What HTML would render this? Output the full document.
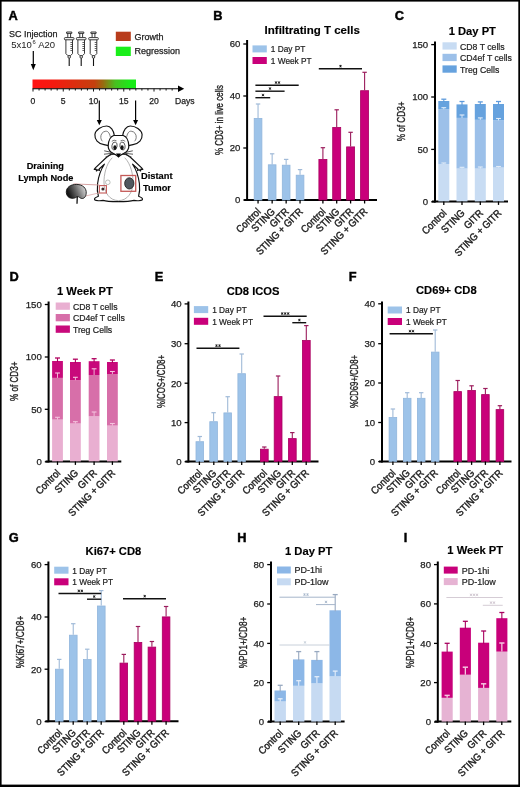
<!DOCTYPE html><html><head><meta charset="utf-8"><style>html,body{margin:0;padding:0;background:#fff;}svg{display:block;filter:blur(0.3px);}</style></head><body><svg width="520" height="787" viewBox="0 0 520 787" font-family='"Liberation Sans", sans-serif'>
<rect x="0" y="0" width="520" height="787" fill="#fff"/>
<text x="213.3" y="19.8" font-size="12.8" font-weight="bold" fill="#000" stroke="#000" stroke-width="0.45">B</text>
<text x="264.6" y="33.5" font-size="11.5" font-weight="bold" text-anchor="start" fill="#000" stroke="#000" stroke-width="0.15" >Infiltrating T cells</text>
<line x1="247.1" y1="40" x2="247.1" y2="201.0" stroke="#000" stroke-width="2" />
<line x1="243.29999999999998" y1="200" x2="247.1" y2="200" stroke="#000" stroke-width="1.3" />
<text x="240.29999999999998" y="203.4" font-size="9.6" font-weight="normal" text-anchor="end" fill="#222222" stroke="#222222" stroke-width="0.25" >0</text>
<line x1="243.29999999999998" y1="148" x2="247.1" y2="148" stroke="#000" stroke-width="1.3" />
<text x="240.29999999999998" y="151.4" font-size="9.6" font-weight="normal" text-anchor="end" fill="#222222" stroke="#222222" stroke-width="0.25" >20</text>
<line x1="243.29999999999998" y1="96" x2="247.1" y2="96" stroke="#000" stroke-width="1.3" />
<text x="240.29999999999998" y="99.4" font-size="9.6" font-weight="normal" text-anchor="end" fill="#222222" stroke="#222222" stroke-width="0.25" >40</text>
<line x1="243.29999999999998" y1="44" x2="247.1" y2="44" stroke="#000" stroke-width="1.3" />
<text x="240.29999999999998" y="47.4" font-size="9.6" font-weight="normal" text-anchor="end" fill="#222222" stroke="#222222" stroke-width="0.25" >60</text>
<line x1="244.1" y1="200.0" x2="377" y2="200.0" stroke="#000" stroke-width="2" />
<text x="0" y="0" font-size="10" text-anchor="middle" fill="#222222" stroke="#222222" stroke-width="0.35" textLength="70" lengthAdjust="spacingAndGlyphs" transform="translate(222.7,120) rotate(-90)">% CD3+ in live cells</text>
<rect x="252.50" y="45.40" width="14.30" height="7.00" fill="#9dc3e9" stroke="none" stroke-width="0" />
<text x="0" y="0" font-size="8.96" fill="#222222" stroke="#222222" stroke-width="0.22" transform="translate(270.80,52.30) scale(0.9259,1)">1 Day PT</text>
<rect x="252.50" y="57.00" width="14.30" height="7.00" fill="#c9007a" stroke="none" stroke-width="0" />
<text x="0" y="0" font-size="8.96" fill="#222222" stroke="#222222" stroke-width="0.22" transform="translate(270.80,63.90) scale(0.9259,1)">1 Week PT</text>
<line x1="258.05" y1="104" x2="258.05" y2="118" stroke="#a0bad8" stroke-width="1.1" />
<line x1="255.85000000000002" y1="104" x2="260.25" y2="104" stroke="#a0bad8" stroke-width="1.2" />
<rect x="254.20" y="118.40" width="7.70" height="81.60" fill="#9dc3e9" stroke="#92b6dc" stroke-width="0.8" />
<line x1="272.15" y1="153.8" x2="272.15" y2="164.4" stroke="#a0bad8" stroke-width="1.1" />
<line x1="269.95" y1="153.8" x2="274.34999999999997" y2="153.8" stroke="#a0bad8" stroke-width="1.2" />
<rect x="268.30" y="164.80" width="7.70" height="35.20" fill="#9dc3e9" stroke="#92b6dc" stroke-width="0.8" />
<line x1="286.15" y1="159.4" x2="286.15" y2="164.8" stroke="#a0bad8" stroke-width="1.1" />
<line x1="283.95" y1="159.4" x2="288.34999999999997" y2="159.4" stroke="#a0bad8" stroke-width="1.2" />
<rect x="282.30" y="165.20" width="7.70" height="34.80" fill="#9dc3e9" stroke="#92b6dc" stroke-width="0.8" />
<line x1="300.05" y1="169.6" x2="300.05" y2="174.8" stroke="#a0bad8" stroke-width="1.1" />
<line x1="297.85" y1="169.6" x2="302.25" y2="169.6" stroke="#a0bad8" stroke-width="1.2" />
<rect x="296.20" y="175.20" width="7.70" height="24.80" fill="#9dc3e9" stroke="#92b6dc" stroke-width="0.8" />
<line x1="322.9" y1="147.7" x2="322.9" y2="159" stroke="#9b1c5c" stroke-width="1.1" />
<line x1="320.7" y1="147.7" x2="325.09999999999997" y2="147.7" stroke="#9b1c5c" stroke-width="1.2" />
<rect x="318.90" y="159.40" width="8.00" height="40.60" fill="#c9007a" stroke="#a8005f" stroke-width="0.8" />
<line x1="336.7" y1="109.8" x2="336.7" y2="127" stroke="#9b1c5c" stroke-width="1.1" />
<line x1="334.5" y1="109.8" x2="338.9" y2="109.8" stroke="#9b1c5c" stroke-width="1.2" />
<rect x="332.70" y="127.40" width="8.00" height="72.60" fill="#c9007a" stroke="#a8005f" stroke-width="0.8" />
<line x1="350.59999999999997" y1="132.3" x2="350.59999999999997" y2="146.5" stroke="#9b1c5c" stroke-width="1.1" />
<line x1="348.4" y1="132.3" x2="352.79999999999995" y2="132.3" stroke="#9b1c5c" stroke-width="1.2" />
<rect x="346.60" y="146.90" width="8.00" height="53.10" fill="#c9007a" stroke="#a8005f" stroke-width="0.8" />
<line x1="364.59999999999997" y1="72.3" x2="364.59999999999997" y2="90.3" stroke="#9b1c5c" stroke-width="1.1" />
<line x1="362.4" y1="72.3" x2="366.79999999999995" y2="72.3" stroke="#9b1c5c" stroke-width="1.2" />
<rect x="360.60" y="90.70" width="8.00" height="109.30" fill="#c9007a" stroke="#a8005f" stroke-width="0.8" />
<line x1="258.05" y1="200.0" x2="258.05" y2="203.5" stroke="#000" stroke-width="1.3" />
<line x1="272.15" y1="200.0" x2="272.15" y2="203.5" stroke="#000" stroke-width="1.3" />
<line x1="286.15" y1="200.0" x2="286.15" y2="203.5" stroke="#000" stroke-width="1.3" />
<line x1="300.05" y1="200.0" x2="300.05" y2="203.5" stroke="#000" stroke-width="1.3" />
<line x1="322.9" y1="200.0" x2="322.9" y2="203.5" stroke="#000" stroke-width="1.3" />
<line x1="336.7" y1="200.0" x2="336.7" y2="203.5" stroke="#000" stroke-width="1.3" />
<line x1="350.59999999999997" y1="200.0" x2="350.59999999999997" y2="203.5" stroke="#000" stroke-width="1.3" />
<line x1="364.59999999999997" y1="200.0" x2="364.59999999999997" y2="203.5" stroke="#000" stroke-width="1.3" />
<text x="0" y="0" font-size="10.23" text-anchor="end" fill="#222222" stroke="#222222" stroke-width="0.4" transform="translate(261.45,212.30) rotate(-45) scale(0.9091,1)">Control</text>
<text x="0" y="0" font-size="10.23" text-anchor="end" fill="#222222" stroke="#222222" stroke-width="0.4" transform="translate(275.55,212.30) rotate(-45) scale(0.9091,1)">STING</text>
<text x="0" y="0" font-size="10.23" text-anchor="end" fill="#222222" stroke="#222222" stroke-width="0.4" transform="translate(289.55,212.30) rotate(-45) scale(0.9091,1)">GITR</text>
<text x="0" y="0" font-size="10.23" text-anchor="end" fill="#222222" stroke="#222222" stroke-width="0.4" transform="translate(303.45,212.30) rotate(-45) scale(0.9091,1)">STING + GITR</text>
<text x="0" y="0" font-size="10.23" text-anchor="end" fill="#222222" stroke="#222222" stroke-width="0.4" transform="translate(326.30,212.30) rotate(-45) scale(0.9091,1)">Control</text>
<text x="0" y="0" font-size="10.23" text-anchor="end" fill="#222222" stroke="#222222" stroke-width="0.4" transform="translate(340.10,212.30) rotate(-45) scale(0.9091,1)">STING</text>
<text x="0" y="0" font-size="10.23" text-anchor="end" fill="#222222" stroke="#222222" stroke-width="0.4" transform="translate(354.00,212.30) rotate(-45) scale(0.9091,1)">GITR</text>
<text x="0" y="0" font-size="10.23" text-anchor="end" fill="#222222" stroke="#222222" stroke-width="0.4" transform="translate(368.00,212.30) rotate(-45) scale(0.9091,1)">STING + GITR</text>
<line x1="255.4" y1="85.2" x2="298.7" y2="85.2" stroke="#111" stroke-width="1.4" />
<path d="M274.80,81.70 L277.20,83.50 M277.20,81.70 L274.80,83.50 M276.00,81.30 L276.00,83.70" stroke="#111" stroke-width="0.8"/>
<path d="M277.80,81.70 L280.20,83.50 M280.20,81.70 L277.80,83.50 M279.00,81.30 L279.00,83.70" stroke="#111" stroke-width="0.8"/>
<line x1="255.4" y1="91.2" x2="284.6" y2="91.2" stroke="#111" stroke-width="1.4" />
<path d="M268.80,87.70 L271.20,89.50 M271.20,87.70 L268.80,89.50 M270.00,87.30 L270.00,89.70" stroke="#111" stroke-width="0.8"/>
<line x1="255.4" y1="97.7" x2="270.2" y2="97.7" stroke="#111" stroke-width="1.4" />
<path d="M261.80,94.20 L264.20,96.00 M264.20,94.20 L261.80,96.00 M263.00,93.80 L263.00,96.20" stroke="#111" stroke-width="0.8"/>
<line x1="318.8" y1="68.8" x2="362" y2="68.8" stroke="#111" stroke-width="1.4" />
<path d="M339.30,65.30 L341.70,67.10 M341.70,65.30 L339.30,67.10 M340.50,64.90 L340.50,67.30" stroke="#111" stroke-width="0.8"/>
<text x="394.8" y="20.2" font-size="12.8" font-weight="bold" fill="#000" stroke="#000" stroke-width="0.45">C</text>
<text x="448.7" y="34.5" font-size="11.2" font-weight="bold" text-anchor="start" fill="#000" stroke="#000" stroke-width="0.15" >1 Day PT</text>
<line x1="435.0" y1="41.5" x2="435.0" y2="202.4" stroke="#000" stroke-width="2" />
<line x1="431.2" y1="201.8" x2="435.0" y2="201.8" stroke="#000" stroke-width="1.3" />
<text x="428.2" y="205.20000000000002" font-size="9.6" font-weight="normal" text-anchor="end" fill="#222222" stroke="#222222" stroke-width="0.25" >0</text>
<line x1="431.2" y1="149.4" x2="435.0" y2="149.4" stroke="#000" stroke-width="1.3" />
<text x="428.2" y="152.8" font-size="9.6" font-weight="normal" text-anchor="end" fill="#222222" stroke="#222222" stroke-width="0.25" >50</text>
<line x1="431.2" y1="97.0" x2="435.0" y2="97.0" stroke="#000" stroke-width="1.3" />
<text x="428.2" y="100.4" font-size="9.6" font-weight="normal" text-anchor="end" fill="#222222" stroke="#222222" stroke-width="0.25" >100</text>
<line x1="431.2" y1="44.6" x2="435.0" y2="44.6" stroke="#000" stroke-width="1.3" />
<text x="428.2" y="48.0" font-size="9.6" font-weight="normal" text-anchor="end" fill="#222222" stroke="#222222" stroke-width="0.25" >150</text>
<line x1="432.0" y1="201.4" x2="508" y2="201.4" stroke="#000" stroke-width="2" />
<text x="0" y="0" font-size="10" text-anchor="middle" fill="#222222" stroke="#222222" stroke-width="0.35" textLength="39.7" lengthAdjust="spacingAndGlyphs" transform="translate(404.9,121.4) rotate(-90)">% of CD3+</text>
<rect x="442.50" y="42.30" width="14.20" height="7.30" fill="#c8dcf3" stroke="none" stroke-width="0" />
<text x="0" y="0" font-size="9.40" fill="#222222" stroke="#222222" stroke-width="0.22" transform="translate(460.00,49.50) scale(0.9259,1)">CD8 T cells</text>
<rect x="442.50" y="53.80" width="14.20" height="7.30" fill="#9cc0e9" stroke="none" stroke-width="0" />
<text x="0" y="0" font-size="9.40" fill="#222222" stroke="#222222" stroke-width="0.22" transform="translate(460.00,61.00) scale(0.9259,1)">CD4ef T cells</text>
<rect x="442.50" y="65.40" width="14.20" height="7.30" fill="#66a2de" stroke="none" stroke-width="0" />
<text x="0" y="0" font-size="9.40" fill="#222222" stroke="#222222" stroke-width="0.22" transform="translate(460.00,72.60) scale(0.9259,1)">Treg Cells</text>
<rect x="438.30" y="164.00" width="11.00" height="37.40" fill="#c8dcf3" stroke="none" stroke-width="0" />
<rect x="438.30" y="109.20" width="11.00" height="54.80" fill="#9cc0e9" stroke="none" stroke-width="0" />
<rect x="438.30" y="101.00" width="11.00" height="8.20" fill="#66a2de" stroke="none" stroke-width="0" />
<line x1="443.8" y1="99.2" x2="443.8" y2="102" stroke="#5d9adb" stroke-width="1.1" />
<line x1="441.3" y1="99.2" x2="446.3" y2="99.2" stroke="#5d9adb" stroke-width="1.3" />
<line x1="443.8" y1="163" x2="443.8" y2="164" stroke="#e2ecf8" stroke-width="0.9" />
<line x1="441.40000000000003" y1="163" x2="446.2" y2="163" stroke="#e2ecf8" stroke-width="1.1" />
<line x1="443.8" y1="107.7" x2="443.8" y2="109.2" stroke="#e2ecf8" stroke-width="0.9" />
<line x1="441.40000000000003" y1="107.7" x2="446.2" y2="107.7" stroke="#e2ecf8" stroke-width="1.1" />
<rect x="456.50" y="168.50" width="11.00" height="32.90" fill="#c8dcf3" stroke="none" stroke-width="0" />
<rect x="456.50" y="117.90" width="11.00" height="50.60" fill="#9cc0e9" stroke="none" stroke-width="0" />
<rect x="456.50" y="104.40" width="11.00" height="13.50" fill="#66a2de" stroke="none" stroke-width="0" />
<line x1="462.0" y1="101.5" x2="462.0" y2="105.4" stroke="#5d9adb" stroke-width="1.1" />
<line x1="459.5" y1="101.5" x2="464.5" y2="101.5" stroke="#5d9adb" stroke-width="1.3" />
<line x1="462.0" y1="167.3" x2="462.0" y2="168.5" stroke="#e2ecf8" stroke-width="0.9" />
<line x1="459.6" y1="167.3" x2="464.4" y2="167.3" stroke="#e2ecf8" stroke-width="1.1" />
<line x1="462.0" y1="115" x2="462.0" y2="117.9" stroke="#e2ecf8" stroke-width="0.9" />
<line x1="459.6" y1="115" x2="464.4" y2="115" stroke="#e2ecf8" stroke-width="1.1" />
<rect x="474.80" y="168.50" width="11.00" height="32.90" fill="#c8dcf3" stroke="none" stroke-width="0" />
<rect x="474.80" y="119.80" width="11.00" height="48.70" fill="#9cc0e9" stroke="none" stroke-width="0" />
<rect x="474.80" y="104.00" width="11.00" height="15.80" fill="#66a2de" stroke="none" stroke-width="0" />
<line x1="480.3" y1="101.9" x2="480.3" y2="105" stroke="#5d9adb" stroke-width="1.1" />
<line x1="477.8" y1="101.9" x2="482.8" y2="101.9" stroke="#5d9adb" stroke-width="1.3" />
<line x1="480.3" y1="167" x2="480.3" y2="168.5" stroke="#e2ecf8" stroke-width="0.9" />
<line x1="477.90000000000003" y1="167" x2="482.7" y2="167" stroke="#e2ecf8" stroke-width="1.1" />
<line x1="480.3" y1="117.9" x2="480.3" y2="119.8" stroke="#e2ecf8" stroke-width="0.9" />
<line x1="477.90000000000003" y1="117.9" x2="482.7" y2="117.9" stroke="#e2ecf8" stroke-width="1.1" />
<rect x="493.00" y="167.50" width="11.00" height="33.90" fill="#c8dcf3" stroke="none" stroke-width="0" />
<rect x="493.00" y="120.40" width="11.00" height="47.10" fill="#9cc0e9" stroke="none" stroke-width="0" />
<rect x="493.00" y="104.00" width="11.00" height="16.40" fill="#66a2de" stroke="none" stroke-width="0" />
<line x1="498.5" y1="101.5" x2="498.5" y2="105" stroke="#5d9adb" stroke-width="1.1" />
<line x1="496.0" y1="101.5" x2="501.0" y2="101.5" stroke="#5d9adb" stroke-width="1.3" />
<line x1="498.5" y1="166.5" x2="498.5" y2="167.5" stroke="#e2ecf8" stroke-width="0.9" />
<line x1="496.1" y1="166.5" x2="500.9" y2="166.5" stroke="#e2ecf8" stroke-width="1.1" />
<line x1="498.5" y1="118.5" x2="498.5" y2="120.4" stroke="#e2ecf8" stroke-width="0.9" />
<line x1="496.1" y1="118.5" x2="500.9" y2="118.5" stroke="#e2ecf8" stroke-width="1.1" />
<line x1="443.8" y1="201.4" x2="443.8" y2="204.9" stroke="#000" stroke-width="1.3" />
<line x1="462.0" y1="201.4" x2="462.0" y2="204.9" stroke="#000" stroke-width="1.3" />
<line x1="480.3" y1="201.4" x2="480.3" y2="204.9" stroke="#000" stroke-width="1.3" />
<line x1="498.5" y1="201.4" x2="498.5" y2="204.9" stroke="#000" stroke-width="1.3" />
<text x="0" y="0" font-size="10.23" text-anchor="end" fill="#222222" stroke="#222222" stroke-width="0.4" transform="translate(447.20,213.70) rotate(-45) scale(0.9091,1)">Control</text>
<text x="0" y="0" font-size="10.23" text-anchor="end" fill="#222222" stroke="#222222" stroke-width="0.4" transform="translate(465.40,213.70) rotate(-45) scale(0.9091,1)">STING</text>
<text x="0" y="0" font-size="10.23" text-anchor="end" fill="#222222" stroke="#222222" stroke-width="0.4" transform="translate(483.70,213.70) rotate(-45) scale(0.9091,1)">GITR</text>
<text x="0" y="0" font-size="10.23" text-anchor="end" fill="#222222" stroke="#222222" stroke-width="0.4" transform="translate(501.90,213.70) rotate(-45) scale(0.9091,1)">STING + GITR</text>
<text x="9.4" y="281.0" font-size="12.8" font-weight="bold" fill="#000" stroke="#000" stroke-width="0.45">D</text>
<text x="57.0" y="294.5" font-size="11.2" font-weight="bold" text-anchor="start" fill="#000" stroke="#000" stroke-width="0.15" >1 Week PT</text>
<line x1="48.6" y1="301.5" x2="48.6" y2="462.4" stroke="#000" stroke-width="2" />
<line x1="44.800000000000004" y1="461.8" x2="48.6" y2="461.8" stroke="#000" stroke-width="1.3" />
<text x="41.800000000000004" y="465.2" font-size="9.6" font-weight="normal" text-anchor="end" fill="#222222" stroke="#222222" stroke-width="0.25" >0</text>
<line x1="44.800000000000004" y1="409.3" x2="48.6" y2="409.3" stroke="#000" stroke-width="1.3" />
<text x="41.800000000000004" y="412.7" font-size="9.6" font-weight="normal" text-anchor="end" fill="#222222" stroke="#222222" stroke-width="0.25" >50</text>
<line x1="44.800000000000004" y1="357.0" x2="48.6" y2="357.0" stroke="#000" stroke-width="1.3" />
<text x="41.800000000000004" y="360.4" font-size="9.6" font-weight="normal" text-anchor="end" fill="#222222" stroke="#222222" stroke-width="0.25" >100</text>
<line x1="44.800000000000004" y1="304.5" x2="48.6" y2="304.5" stroke="#000" stroke-width="1.3" />
<text x="41.800000000000004" y="307.9" font-size="9.6" font-weight="normal" text-anchor="end" fill="#222222" stroke="#222222" stroke-width="0.25" >150</text>
<line x1="45.6" y1="461.4" x2="121.3" y2="461.4" stroke="#000" stroke-width="2" />
<text x="0" y="0" font-size="10" text-anchor="middle" fill="#222222" stroke="#222222" stroke-width="0.35" textLength="39.4" lengthAdjust="spacingAndGlyphs" transform="translate(18.4,381.3) rotate(-90)">% of CD3+</text>
<rect x="55.70" y="302.50" width="14.20" height="7.30" fill="#e9afd1" stroke="none" stroke-width="0" />
<text x="0" y="0" font-size="9.40" fill="#222222" stroke="#222222" stroke-width="0.22" transform="translate(72.90,309.70) scale(0.9259,1)">CD8 T cells</text>
<rect x="55.70" y="314.00" width="14.20" height="7.30" fill="#d76fa9" stroke="none" stroke-width="0" />
<text x="0" y="0" font-size="9.40" fill="#222222" stroke="#222222" stroke-width="0.22" transform="translate(72.90,321.20) scale(0.9259,1)">CD4ef T cells</text>
<rect x="55.70" y="325.50" width="14.20" height="7.30" fill="#c8097b" stroke="none" stroke-width="0" />
<text x="0" y="0" font-size="9.40" fill="#222222" stroke="#222222" stroke-width="0.22" transform="translate(72.90,332.70) scale(0.9259,1)">Treg Cells</text>
<rect x="52.10" y="419.60" width="10.80" height="41.80" fill="#e9afd1" stroke="none" stroke-width="0" />
<rect x="52.10" y="377.90" width="10.80" height="41.70" fill="#d76fa9" stroke="none" stroke-width="0" />
<rect x="52.10" y="361.00" width="10.80" height="16.90" fill="#c8097b" stroke="none" stroke-width="0" />
<line x1="57.5" y1="358" x2="57.5" y2="362" stroke="#b0005f" stroke-width="1.1" />
<line x1="55.0" y1="358" x2="60.0" y2="358" stroke="#b0005f" stroke-width="1.3" />
<line x1="57.5" y1="417.3" x2="57.5" y2="419.6" stroke="#f4c4de" stroke-width="0.9" />
<line x1="55.1" y1="417.3" x2="59.9" y2="417.3" stroke="#f4c4de" stroke-width="1.1" />
<line x1="57.5" y1="373" x2="57.5" y2="377.9" stroke="#f4c4de" stroke-width="0.9" />
<line x1="55.1" y1="373" x2="59.9" y2="373" stroke="#f4c4de" stroke-width="1.1" />
<rect x="70.00" y="423.50" width="10.80" height="37.90" fill="#e9afd1" stroke="none" stroke-width="0" />
<rect x="70.00" y="380.20" width="10.80" height="43.30" fill="#d76fa9" stroke="none" stroke-width="0" />
<rect x="70.00" y="362.00" width="10.80" height="18.20" fill="#c8097b" stroke="none" stroke-width="0" />
<line x1="75.4" y1="359.2" x2="75.4" y2="363" stroke="#b0005f" stroke-width="1.1" />
<line x1="72.9" y1="359.2" x2="77.9" y2="359.2" stroke="#b0005f" stroke-width="1.3" />
<line x1="75.4" y1="421.7" x2="75.4" y2="423.5" stroke="#f4c4de" stroke-width="0.9" />
<line x1="73.0" y1="421.7" x2="77.80000000000001" y2="421.7" stroke="#f4c4de" stroke-width="1.1" />
<line x1="75.4" y1="377.3" x2="75.4" y2="380.2" stroke="#f4c4de" stroke-width="0.9" />
<line x1="73.0" y1="377.3" x2="77.80000000000001" y2="377.3" stroke="#f4c4de" stroke-width="1.1" />
<rect x="88.70" y="416.30" width="10.80" height="45.10" fill="#e9afd1" stroke="none" stroke-width="0" />
<rect x="88.70" y="375.00" width="10.80" height="41.30" fill="#d76fa9" stroke="none" stroke-width="0" />
<rect x="88.70" y="361.20" width="10.80" height="13.80" fill="#c8097b" stroke="none" stroke-width="0" />
<line x1="94.10000000000001" y1="358.7" x2="94.10000000000001" y2="362.2" stroke="#b0005f" stroke-width="1.1" />
<line x1="91.60000000000001" y1="358.7" x2="96.60000000000001" y2="358.7" stroke="#b0005f" stroke-width="1.3" />
<line x1="94.10000000000001" y1="412" x2="94.10000000000001" y2="416.3" stroke="#f4c4de" stroke-width="0.9" />
<line x1="91.7" y1="412" x2="96.50000000000001" y2="412" stroke="#f4c4de" stroke-width="1.1" />
<line x1="94.10000000000001" y1="368.8" x2="94.10000000000001" y2="375" stroke="#f4c4de" stroke-width="0.9" />
<line x1="91.7" y1="368.8" x2="96.50000000000001" y2="368.8" stroke="#f4c4de" stroke-width="1.1" />
<rect x="107.00" y="425.60" width="10.80" height="35.80" fill="#e9afd1" stroke="none" stroke-width="0" />
<rect x="107.00" y="374.00" width="10.80" height="51.60" fill="#d76fa9" stroke="none" stroke-width="0" />
<rect x="107.00" y="362.00" width="10.80" height="12.00" fill="#c8097b" stroke="none" stroke-width="0" />
<line x1="112.4" y1="360" x2="112.4" y2="363" stroke="#b0005f" stroke-width="1.1" />
<line x1="109.9" y1="360" x2="114.9" y2="360" stroke="#b0005f" stroke-width="1.3" />
<line x1="112.4" y1="423.5" x2="112.4" y2="425.6" stroke="#f4c4de" stroke-width="0.9" />
<line x1="110.0" y1="423.5" x2="114.80000000000001" y2="423.5" stroke="#f4c4de" stroke-width="1.1" />
<line x1="112.4" y1="371.5" x2="112.4" y2="374" stroke="#f4c4de" stroke-width="0.9" />
<line x1="110.0" y1="371.5" x2="114.80000000000001" y2="371.5" stroke="#f4c4de" stroke-width="1.1" />
<line x1="57.5" y1="461.4" x2="57.5" y2="464.9" stroke="#000" stroke-width="1.3" />
<line x1="75.4" y1="461.4" x2="75.4" y2="464.9" stroke="#000" stroke-width="1.3" />
<line x1="94.1" y1="461.4" x2="94.1" y2="464.9" stroke="#000" stroke-width="1.3" />
<line x1="112.4" y1="461.4" x2="112.4" y2="464.9" stroke="#000" stroke-width="1.3" />
<text x="0" y="0" font-size="10.23" text-anchor="end" fill="#222222" stroke="#222222" stroke-width="0.4" transform="translate(60.90,473.70) rotate(-45) scale(0.9091,1)">Control</text>
<text x="0" y="0" font-size="10.23" text-anchor="end" fill="#222222" stroke="#222222" stroke-width="0.4" transform="translate(78.80,473.70) rotate(-45) scale(0.9091,1)">STING</text>
<text x="0" y="0" font-size="10.23" text-anchor="end" fill="#222222" stroke="#222222" stroke-width="0.4" transform="translate(97.50,473.70) rotate(-45) scale(0.9091,1)">GITR</text>
<text x="0" y="0" font-size="10.23" text-anchor="end" fill="#222222" stroke="#222222" stroke-width="0.4" transform="translate(115.80,473.70) rotate(-45) scale(0.9091,1)">STING + GITR</text>
<text x="154.8" y="281.0" font-size="12.8" font-weight="bold" fill="#000" stroke="#000" stroke-width="0.45">E</text>
<text x="226.7" y="294.5" font-size="11.2" font-weight="bold" text-anchor="start" fill="#000" stroke="#000" stroke-width="0.15" >CD8 ICOS</text>
<line x1="188.4" y1="301.5" x2="188.4" y2="462.5" stroke="#000" stroke-width="2" />
<line x1="184.6" y1="461.7" x2="188.4" y2="461.7" stroke="#000" stroke-width="1.3" />
<text x="181.6" y="465.09999999999997" font-size="9.6" font-weight="normal" text-anchor="end" fill="#222222" stroke="#222222" stroke-width="0.25" >0</text>
<line x1="184.6" y1="422.6" x2="188.4" y2="422.6" stroke="#000" stroke-width="1.3" />
<text x="181.6" y="426.0" font-size="9.6" font-weight="normal" text-anchor="end" fill="#222222" stroke="#222222" stroke-width="0.25" >10</text>
<line x1="184.6" y1="383.2" x2="188.4" y2="383.2" stroke="#000" stroke-width="1.3" />
<text x="181.6" y="386.59999999999997" font-size="9.6" font-weight="normal" text-anchor="end" fill="#222222" stroke="#222222" stroke-width="0.25" >20</text>
<line x1="184.6" y1="343.7" x2="188.4" y2="343.7" stroke="#000" stroke-width="1.3" />
<text x="181.6" y="347.09999999999997" font-size="9.6" font-weight="normal" text-anchor="end" fill="#222222" stroke="#222222" stroke-width="0.25" >30</text>
<line x1="184.6" y1="303.9" x2="188.4" y2="303.9" stroke="#000" stroke-width="1.3" />
<text x="181.6" y="307.29999999999995" font-size="9.6" font-weight="normal" text-anchor="end" fill="#222222" stroke="#222222" stroke-width="0.25" >40</text>
<line x1="185.4" y1="461.5" x2="318.5" y2="461.5" stroke="#000" stroke-width="2" />
<text x="0" y="0" font-size="10" text-anchor="middle" fill="#222222" stroke="#222222" stroke-width="0.35" textLength="53" lengthAdjust="spacingAndGlyphs" transform="translate(164.89999999999998,381.5) rotate(-90)">%ICOS+/CD8+</text>
<rect x="193.90" y="306.10" width="14.30" height="7.00" fill="#9dc3e9" stroke="none" stroke-width="0" />
<text x="0" y="0" font-size="8.96" fill="#222222" stroke="#222222" stroke-width="0.22" transform="translate(212.20,313.00) scale(0.9259,1)">1 Day PT</text>
<rect x="193.90" y="317.80" width="14.30" height="7.00" fill="#c9007a" stroke="none" stroke-width="0" />
<text x="0" y="0" font-size="8.96" fill="#222222" stroke="#222222" stroke-width="0.22" transform="translate(212.20,324.70) scale(0.9259,1)">1 Week PT</text>
<line x1="199.79999999999998" y1="436.5" x2="199.79999999999998" y2="441.3" stroke="#a0bad8" stroke-width="1.1" />
<line x1="197.6" y1="436.5" x2="201.99999999999997" y2="436.5" stroke="#a0bad8" stroke-width="1.2" />
<rect x="196.00" y="441.70" width="7.60" height="19.80" fill="#9dc3e9" stroke="#92b6dc" stroke-width="0.8" />
<line x1="213.6" y1="412.7" x2="213.6" y2="421.3" stroke="#a0bad8" stroke-width="1.1" />
<line x1="211.4" y1="412.7" x2="215.79999999999998" y2="412.7" stroke="#a0bad8" stroke-width="1.2" />
<rect x="209.80" y="421.70" width="7.60" height="39.80" fill="#9dc3e9" stroke="#92b6dc" stroke-width="0.8" />
<line x1="227.7" y1="396.7" x2="227.7" y2="412.5" stroke="#a0bad8" stroke-width="1.1" />
<line x1="225.5" y1="396.7" x2="229.89999999999998" y2="396.7" stroke="#a0bad8" stroke-width="1.2" />
<rect x="223.90" y="412.90" width="7.60" height="48.60" fill="#9dc3e9" stroke="#92b6dc" stroke-width="0.8" />
<line x1="241.7" y1="354" x2="241.7" y2="373.3" stroke="#a0bad8" stroke-width="1.1" />
<line x1="239.5" y1="354" x2="243.89999999999998" y2="354" stroke="#a0bad8" stroke-width="1.2" />
<rect x="237.90" y="373.70" width="7.60" height="87.80" fill="#9dc3e9" stroke="#92b6dc" stroke-width="0.8" />
<line x1="264.3" y1="447" x2="264.3" y2="448.8" stroke="#9b1c5c" stroke-width="1.1" />
<line x1="262.1" y1="447" x2="266.5" y2="447" stroke="#9b1c5c" stroke-width="1.2" />
<rect x="260.40" y="449.20" width="7.80" height="12.30" fill="#c9007a" stroke="#a8005f" stroke-width="0.8" />
<line x1="278.1" y1="376" x2="278.1" y2="396.2" stroke="#9b1c5c" stroke-width="1.1" />
<line x1="275.90000000000003" y1="376" x2="280.3" y2="376" stroke="#9b1c5c" stroke-width="1.2" />
<rect x="274.20" y="396.60" width="7.80" height="64.90" fill="#c9007a" stroke="#a8005f" stroke-width="0.8" />
<line x1="292.3" y1="432.6" x2="292.3" y2="438.2" stroke="#9b1c5c" stroke-width="1.1" />
<line x1="290.1" y1="432.6" x2="294.5" y2="432.6" stroke="#9b1c5c" stroke-width="1.2" />
<rect x="288.40" y="438.60" width="7.80" height="22.90" fill="#c9007a" stroke="#a8005f" stroke-width="0.8" />
<line x1="306.3" y1="325.6" x2="306.3" y2="340" stroke="#9b1c5c" stroke-width="1.1" />
<line x1="304.1" y1="325.6" x2="308.5" y2="325.6" stroke="#9b1c5c" stroke-width="1.2" />
<rect x="302.40" y="340.40" width="7.80" height="121.10" fill="#c9007a" stroke="#a8005f" stroke-width="0.8" />
<line x1="199.4" y1="461.5" x2="199.4" y2="465.0" stroke="#000" stroke-width="1.3" />
<line x1="213.8" y1="461.5" x2="213.8" y2="465.0" stroke="#000" stroke-width="1.3" />
<line x1="227.7" y1="461.5" x2="227.7" y2="465.0" stroke="#000" stroke-width="1.3" />
<line x1="241.7" y1="461.5" x2="241.7" y2="465.0" stroke="#000" stroke-width="1.3" />
<line x1="264.2" y1="461.5" x2="264.2" y2="465.0" stroke="#000" stroke-width="1.3" />
<line x1="278.5" y1="461.5" x2="278.5" y2="465.0" stroke="#000" stroke-width="1.3" />
<line x1="292.3" y1="461.5" x2="292.3" y2="465.0" stroke="#000" stroke-width="1.3" />
<line x1="306.2" y1="461.5" x2="306.2" y2="465.0" stroke="#000" stroke-width="1.3" />
<text x="0" y="0" font-size="10.23" text-anchor="end" fill="#222222" stroke="#222222" stroke-width="0.4" transform="translate(202.80,473.80) rotate(-45) scale(0.9091,1)">Control</text>
<text x="0" y="0" font-size="10.23" text-anchor="end" fill="#222222" stroke="#222222" stroke-width="0.4" transform="translate(217.20,473.80) rotate(-45) scale(0.9091,1)">STING</text>
<text x="0" y="0" font-size="10.23" text-anchor="end" fill="#222222" stroke="#222222" stroke-width="0.4" transform="translate(231.10,473.80) rotate(-45) scale(0.9091,1)">GITR</text>
<text x="0" y="0" font-size="10.23" text-anchor="end" fill="#222222" stroke="#222222" stroke-width="0.4" transform="translate(245.10,473.80) rotate(-45) scale(0.9091,1)">STING + GITR</text>
<text x="0" y="0" font-size="10.23" text-anchor="end" fill="#222222" stroke="#222222" stroke-width="0.4" transform="translate(267.60,473.80) rotate(-45) scale(0.9091,1)">Control</text>
<text x="0" y="0" font-size="10.23" text-anchor="end" fill="#222222" stroke="#222222" stroke-width="0.4" transform="translate(281.90,473.80) rotate(-45) scale(0.9091,1)">STING</text>
<text x="0" y="0" font-size="10.23" text-anchor="end" fill="#222222" stroke="#222222" stroke-width="0.4" transform="translate(295.70,473.80) rotate(-45) scale(0.9091,1)">GITR</text>
<text x="0" y="0" font-size="10.23" text-anchor="end" fill="#222222" stroke="#222222" stroke-width="0.4" transform="translate(309.60,473.80) rotate(-45) scale(0.9091,1)">STING + GITR</text>
<line x1="196.5" y1="348.3" x2="239.4" y2="348.3" stroke="#111" stroke-width="1.4" />
<path d="M215.30,344.80 L217.70,346.60 M217.70,344.80 L215.30,346.60 M216.50,344.40 L216.50,346.80" stroke="#111" stroke-width="0.8"/>
<path d="M218.30,344.80 L220.70,346.60 M220.70,344.80 L218.30,346.60 M219.50,344.40 L219.50,346.80" stroke="#111" stroke-width="0.8"/>
<line x1="263.5" y1="316.2" x2="306.7" y2="316.2" stroke="#111" stroke-width="1.4" />
<path d="M281.00,312.70 L283.40,314.50 M283.40,312.70 L281.00,314.50 M282.20,312.30 L282.20,314.70" stroke="#111" stroke-width="0.8"/>
<path d="M284.00,312.70 L286.40,314.50 M286.40,312.70 L284.00,314.50 M285.20,312.30 L285.20,314.70" stroke="#111" stroke-width="0.8"/>
<path d="M287.00,312.70 L289.40,314.50 M289.40,312.70 L287.00,314.50 M288.20,312.30 L288.20,314.70" stroke="#111" stroke-width="0.8"/>
<line x1="292.3" y1="322.7" x2="306.2" y2="322.7" stroke="#111" stroke-width="1.4" />
<path d="M298.20,319.20 L300.60,321.00 M300.60,319.20 L298.20,321.00 M299.40,318.80 L299.40,321.20" stroke="#111" stroke-width="0.8"/>
<text x="348.7" y="281.2" font-size="12.8" font-weight="bold" fill="#000" stroke="#000" stroke-width="0.45">F</text>
<text x="416.0" y="293.8" font-size="11.2" font-weight="bold" text-anchor="start" fill="#000" stroke="#000" stroke-width="0.15" >CD69+ CD8</text>
<line x1="382.0" y1="301.5" x2="382.0" y2="462.4" stroke="#000" stroke-width="2" />
<line x1="378.2" y1="461.6" x2="382.0" y2="461.6" stroke="#000" stroke-width="1.3" />
<text x="375.2" y="465.0" font-size="9.6" font-weight="normal" text-anchor="end" fill="#222222" stroke="#222222" stroke-width="0.25" >0</text>
<line x1="378.2" y1="422.5" x2="382.0" y2="422.5" stroke="#000" stroke-width="1.3" />
<text x="375.2" y="425.9" font-size="9.6" font-weight="normal" text-anchor="end" fill="#222222" stroke="#222222" stroke-width="0.25" >10</text>
<line x1="378.2" y1="383.0" x2="382.0" y2="383.0" stroke="#000" stroke-width="1.3" />
<text x="375.2" y="386.4" font-size="9.6" font-weight="normal" text-anchor="end" fill="#222222" stroke="#222222" stroke-width="0.25" >20</text>
<line x1="378.2" y1="343.7" x2="382.0" y2="343.7" stroke="#000" stroke-width="1.3" />
<text x="375.2" y="347.09999999999997" font-size="9.6" font-weight="normal" text-anchor="end" fill="#222222" stroke="#222222" stroke-width="0.25" >30</text>
<line x1="378.2" y1="303.8" x2="382.0" y2="303.8" stroke="#000" stroke-width="1.3" />
<text x="375.2" y="307.2" font-size="9.6" font-weight="normal" text-anchor="end" fill="#222222" stroke="#222222" stroke-width="0.25" >40</text>
<line x1="379.0" y1="461.4" x2="511.5" y2="461.4" stroke="#000" stroke-width="2" />
<text x="0" y="0" font-size="10" text-anchor="middle" fill="#222222" stroke="#222222" stroke-width="0.35" textLength="53" lengthAdjust="spacingAndGlyphs" transform="translate(357.5,381.6) rotate(-90)">%CD69+/CD8+</text>
<rect x="387.70" y="306.50" width="14.30" height="7.00" fill="#9dc3e9" stroke="none" stroke-width="0" />
<text x="0" y="0" font-size="8.96" fill="#222222" stroke="#222222" stroke-width="0.22" transform="translate(406.00,313.40) scale(0.9259,1)">1 Day PT</text>
<rect x="387.70" y="318.00" width="14.30" height="7.00" fill="#c9007a" stroke="none" stroke-width="0" />
<text x="0" y="0" font-size="8.96" fill="#222222" stroke="#222222" stroke-width="0.22" transform="translate(406.00,324.90) scale(0.9259,1)">1 Week PT</text>
<line x1="392.9" y1="409" x2="392.9" y2="417.1" stroke="#a0bad8" stroke-width="1.1" />
<line x1="390.7" y1="409" x2="395.09999999999997" y2="409" stroke="#a0bad8" stroke-width="1.2" />
<rect x="389.10" y="417.50" width="7.60" height="43.90" fill="#9dc3e9" stroke="#92b6dc" stroke-width="0.8" />
<line x1="407.2" y1="392.7" x2="407.2" y2="397.9" stroke="#a0bad8" stroke-width="1.1" />
<line x1="405.0" y1="392.7" x2="409.4" y2="392.7" stroke="#a0bad8" stroke-width="1.2" />
<rect x="403.40" y="398.30" width="7.60" height="63.10" fill="#9dc3e9" stroke="#92b6dc" stroke-width="0.8" />
<line x1="421.2" y1="392.7" x2="421.2" y2="397.9" stroke="#a0bad8" stroke-width="1.1" />
<line x1="419.0" y1="392.7" x2="423.4" y2="392.7" stroke="#a0bad8" stroke-width="1.2" />
<rect x="417.40" y="398.30" width="7.60" height="63.10" fill="#9dc3e9" stroke="#92b6dc" stroke-width="0.8" />
<line x1="435.2" y1="330" x2="435.2" y2="351.7" stroke="#a0bad8" stroke-width="1.1" />
<line x1="433.0" y1="330" x2="437.4" y2="330" stroke="#a0bad8" stroke-width="1.2" />
<rect x="431.40" y="352.10" width="7.60" height="109.30" fill="#9dc3e9" stroke="#92b6dc" stroke-width="0.8" />
<line x1="457.7" y1="380.5" x2="457.7" y2="391.2" stroke="#9b1c5c" stroke-width="1.1" />
<line x1="455.5" y1="380.5" x2="459.9" y2="380.5" stroke="#9b1c5c" stroke-width="1.2" />
<rect x="453.90" y="391.60" width="7.60" height="69.80" fill="#c9007a" stroke="#a8005f" stroke-width="0.8" />
<line x1="471.59999999999997" y1="385.8" x2="471.59999999999997" y2="390" stroke="#9b1c5c" stroke-width="1.1" />
<line x1="469.4" y1="385.8" x2="473.79999999999995" y2="385.8" stroke="#9b1c5c" stroke-width="1.2" />
<rect x="467.80" y="390.40" width="7.60" height="71.00" fill="#c9007a" stroke="#a8005f" stroke-width="0.8" />
<line x1="485.4" y1="388.5" x2="485.4" y2="394.2" stroke="#9b1c5c" stroke-width="1.1" />
<line x1="483.2" y1="388.5" x2="487.59999999999997" y2="388.5" stroke="#9b1c5c" stroke-width="1.2" />
<rect x="481.60" y="394.60" width="7.60" height="66.80" fill="#c9007a" stroke="#a8005f" stroke-width="0.8" />
<line x1="499.9" y1="405.7" x2="499.9" y2="409.2" stroke="#9b1c5c" stroke-width="1.1" />
<line x1="497.7" y1="405.7" x2="502.09999999999997" y2="405.7" stroke="#9b1c5c" stroke-width="1.2" />
<rect x="496.10" y="409.60" width="7.60" height="51.80" fill="#c9007a" stroke="#a8005f" stroke-width="0.8" />
<line x1="392.9" y1="461.4" x2="392.9" y2="464.9" stroke="#000" stroke-width="1.3" />
<line x1="407.2" y1="461.4" x2="407.2" y2="464.9" stroke="#000" stroke-width="1.3" />
<line x1="421.2" y1="461.4" x2="421.2" y2="464.9" stroke="#000" stroke-width="1.3" />
<line x1="435.2" y1="461.4" x2="435.2" y2="464.9" stroke="#000" stroke-width="1.3" />
<line x1="457.7" y1="461.4" x2="457.7" y2="464.9" stroke="#000" stroke-width="1.3" />
<line x1="471.6" y1="461.4" x2="471.6" y2="464.9" stroke="#000" stroke-width="1.3" />
<line x1="485.4" y1="461.4" x2="485.4" y2="464.9" stroke="#000" stroke-width="1.3" />
<line x1="499.9" y1="461.4" x2="499.9" y2="464.9" stroke="#000" stroke-width="1.3" />
<text x="0" y="0" font-size="10.23" text-anchor="end" fill="#222222" stroke="#222222" stroke-width="0.4" transform="translate(396.30,473.70) rotate(-45) scale(0.9091,1)">Control</text>
<text x="0" y="0" font-size="10.23" text-anchor="end" fill="#222222" stroke="#222222" stroke-width="0.4" transform="translate(410.60,473.70) rotate(-45) scale(0.9091,1)">STING</text>
<text x="0" y="0" font-size="10.23" text-anchor="end" fill="#222222" stroke="#222222" stroke-width="0.4" transform="translate(424.60,473.70) rotate(-45) scale(0.9091,1)">GITR</text>
<text x="0" y="0" font-size="10.23" text-anchor="end" fill="#222222" stroke="#222222" stroke-width="0.4" transform="translate(438.60,473.70) rotate(-45) scale(0.9091,1)">STING + GITR</text>
<text x="0" y="0" font-size="10.23" text-anchor="end" fill="#222222" stroke="#222222" stroke-width="0.4" transform="translate(461.10,473.70) rotate(-45) scale(0.9091,1)">Control</text>
<text x="0" y="0" font-size="10.23" text-anchor="end" fill="#222222" stroke="#222222" stroke-width="0.4" transform="translate(475.00,473.70) rotate(-45) scale(0.9091,1)">STING</text>
<text x="0" y="0" font-size="10.23" text-anchor="end" fill="#222222" stroke="#222222" stroke-width="0.4" transform="translate(488.80,473.70) rotate(-45) scale(0.9091,1)">GITR</text>
<text x="0" y="0" font-size="10.23" text-anchor="end" fill="#222222" stroke="#222222" stroke-width="0.4" transform="translate(503.30,473.70) rotate(-45) scale(0.9091,1)">STING + GITR</text>
<line x1="389.6" y1="333.8" x2="432.9" y2="333.8" stroke="#111" stroke-width="1.4" />
<path d="M408.80,330.30 L411.20,332.10 M411.20,330.30 L408.80,332.10 M410.00,329.90 L410.00,332.30" stroke="#111" stroke-width="0.8"/>
<path d="M411.80,330.30 L414.20,332.10 M414.20,330.30 L411.80,332.10 M413.00,329.90 L413.00,332.30" stroke="#111" stroke-width="0.8"/>
<text x="8.7" y="541.5" font-size="12.8" font-weight="bold" fill="#000" stroke="#000" stroke-width="0.45">G</text>
<text x="85.6" y="554.6" font-size="11.2" font-weight="bold" text-anchor="start" fill="#000" stroke="#000" stroke-width="0.15" >Ki67+ CD8</text>
<line x1="48.4" y1="561.5" x2="48.4" y2="722.2" stroke="#000" stroke-width="2" />
<line x1="44.6" y1="721.6" x2="48.4" y2="721.6" stroke="#000" stroke-width="1.3" />
<text x="41.6" y="725.0" font-size="9.6" font-weight="normal" text-anchor="end" fill="#222222" stroke="#222222" stroke-width="0.25" >0</text>
<line x1="44.6" y1="669.2" x2="48.4" y2="669.2" stroke="#000" stroke-width="1.3" />
<text x="41.6" y="672.6" font-size="9.6" font-weight="normal" text-anchor="end" fill="#222222" stroke="#222222" stroke-width="0.25" >20</text>
<line x1="44.6" y1="617.0" x2="48.4" y2="617.0" stroke="#000" stroke-width="1.3" />
<text x="41.6" y="620.4" font-size="9.6" font-weight="normal" text-anchor="end" fill="#222222" stroke="#222222" stroke-width="0.25" >40</text>
<line x1="44.6" y1="564.6" x2="48.4" y2="564.6" stroke="#000" stroke-width="1.3" />
<text x="41.6" y="568.0" font-size="9.6" font-weight="normal" text-anchor="end" fill="#222222" stroke="#222222" stroke-width="0.25" >60</text>
<line x1="45.4" y1="721.2" x2="178.5" y2="721.2" stroke="#000" stroke-width="2" />
<text x="0" y="0" font-size="10" text-anchor="middle" fill="#222222" stroke="#222222" stroke-width="0.35" textLength="52.5" lengthAdjust="spacingAndGlyphs" transform="translate(24.2,642.0) rotate(-90)">%Ki67+/CD8+</text>
<rect x="54.20" y="566.70" width="14.30" height="7.00" fill="#9dc3e9" stroke="none" stroke-width="0" />
<text x="0" y="0" font-size="8.96" fill="#222222" stroke="#222222" stroke-width="0.22" transform="translate(72.30,573.60) scale(0.9259,1)">1 Day PT</text>
<rect x="54.20" y="578.30" width="14.30" height="7.00" fill="#c9007a" stroke="none" stroke-width="0" />
<text x="0" y="0" font-size="8.96" fill="#222222" stroke="#222222" stroke-width="0.22" transform="translate(72.30,585.20) scale(0.9259,1)">1 Week PT</text>
<line x1="59.25" y1="659.4" x2="59.25" y2="668.8" stroke="#a0bad8" stroke-width="1.1" />
<line x1="57.05" y1="659.4" x2="61.45" y2="659.4" stroke="#a0bad8" stroke-width="1.2" />
<rect x="55.40" y="669.20" width="7.70" height="52.00" fill="#9dc3e9" stroke="#92b6dc" stroke-width="0.8" />
<line x1="73.25" y1="623.7" x2="73.25" y2="634.8" stroke="#a0bad8" stroke-width="1.1" />
<line x1="71.05" y1="623.7" x2="75.45" y2="623.7" stroke="#a0bad8" stroke-width="1.2" />
<rect x="69.40" y="635.20" width="7.70" height="86.00" fill="#9dc3e9" stroke="#92b6dc" stroke-width="0.8" />
<line x1="87.25" y1="649.2" x2="87.25" y2="659.2" stroke="#a0bad8" stroke-width="1.1" />
<line x1="85.05" y1="649.2" x2="89.45" y2="649.2" stroke="#a0bad8" stroke-width="1.2" />
<rect x="83.40" y="659.60" width="7.70" height="61.60" fill="#9dc3e9" stroke="#92b6dc" stroke-width="0.8" />
<line x1="101.25" y1="590.6" x2="101.25" y2="605.6" stroke="#a0bad8" stroke-width="1.1" />
<line x1="99.05" y1="590.6" x2="103.45" y2="590.6" stroke="#a0bad8" stroke-width="1.2" />
<rect x="97.40" y="606.00" width="7.70" height="115.20" fill="#9dc3e9" stroke="#92b6dc" stroke-width="0.8" />
<line x1="123.8" y1="654.4" x2="123.8" y2="662.7" stroke="#9b1c5c" stroke-width="1.1" />
<line x1="121.6" y1="654.4" x2="126.0" y2="654.4" stroke="#9b1c5c" stroke-width="1.2" />
<rect x="120.00" y="663.10" width="7.60" height="58.10" fill="#c9007a" stroke="#a8005f" stroke-width="0.8" />
<line x1="138.0" y1="626.5" x2="138.0" y2="642" stroke="#9b1c5c" stroke-width="1.1" />
<line x1="135.8" y1="626.5" x2="140.2" y2="626.5" stroke="#9b1c5c" stroke-width="1.2" />
<rect x="134.20" y="642.40" width="7.60" height="78.80" fill="#c9007a" stroke="#a8005f" stroke-width="0.8" />
<line x1="151.89999999999998" y1="641.5" x2="151.89999999999998" y2="646.7" stroke="#9b1c5c" stroke-width="1.1" />
<line x1="149.7" y1="641.5" x2="154.09999999999997" y2="641.5" stroke="#9b1c5c" stroke-width="1.2" />
<rect x="148.10" y="647.10" width="7.60" height="74.10" fill="#c9007a" stroke="#a8005f" stroke-width="0.8" />
<line x1="166.1" y1="606.5" x2="166.1" y2="616.5" stroke="#9b1c5c" stroke-width="1.1" />
<line x1="163.9" y1="606.5" x2="168.29999999999998" y2="606.5" stroke="#9b1c5c" stroke-width="1.2" />
<rect x="162.30" y="616.90" width="7.60" height="104.30" fill="#c9007a" stroke="#a8005f" stroke-width="0.8" />
<line x1="59.2" y1="721.2" x2="59.2" y2="724.7" stroke="#000" stroke-width="1.3" />
<line x1="73.2" y1="721.2" x2="73.2" y2="724.7" stroke="#000" stroke-width="1.3" />
<line x1="87.2" y1="721.2" x2="87.2" y2="724.7" stroke="#000" stroke-width="1.3" />
<line x1="101.2" y1="721.2" x2="101.2" y2="724.7" stroke="#000" stroke-width="1.3" />
<line x1="123.8" y1="721.2" x2="123.8" y2="724.7" stroke="#000" stroke-width="1.3" />
<line x1="138.0" y1="721.2" x2="138.0" y2="724.7" stroke="#000" stroke-width="1.3" />
<line x1="151.9" y1="721.2" x2="151.9" y2="724.7" stroke="#000" stroke-width="1.3" />
<line x1="166.1" y1="721.2" x2="166.1" y2="724.7" stroke="#000" stroke-width="1.3" />
<text x="0" y="0" font-size="10.23" text-anchor="end" fill="#222222" stroke="#222222" stroke-width="0.4" transform="translate(62.60,733.50) rotate(-45) scale(0.9091,1)">Control</text>
<text x="0" y="0" font-size="10.23" text-anchor="end" fill="#222222" stroke="#222222" stroke-width="0.4" transform="translate(76.60,733.50) rotate(-45) scale(0.9091,1)">STING</text>
<text x="0" y="0" font-size="10.23" text-anchor="end" fill="#222222" stroke="#222222" stroke-width="0.4" transform="translate(90.60,733.50) rotate(-45) scale(0.9091,1)">GITR</text>
<text x="0" y="0" font-size="10.23" text-anchor="end" fill="#222222" stroke="#222222" stroke-width="0.4" transform="translate(104.60,733.50) rotate(-45) scale(0.9091,1)">STING + GITR</text>
<text x="0" y="0" font-size="10.23" text-anchor="end" fill="#222222" stroke="#222222" stroke-width="0.4" transform="translate(127.20,733.50) rotate(-45) scale(0.9091,1)">Control</text>
<text x="0" y="0" font-size="10.23" text-anchor="end" fill="#222222" stroke="#222222" stroke-width="0.4" transform="translate(141.40,733.50) rotate(-45) scale(0.9091,1)">STING</text>
<text x="0" y="0" font-size="10.23" text-anchor="end" fill="#222222" stroke="#222222" stroke-width="0.4" transform="translate(155.30,733.50) rotate(-45) scale(0.9091,1)">GITR</text>
<text x="0" y="0" font-size="10.23" text-anchor="end" fill="#222222" stroke="#222222" stroke-width="0.4" transform="translate(169.50,733.50) rotate(-45) scale(0.9091,1)">STING + GITR</text>
<line x1="58.5" y1="593.5" x2="101.2" y2="593.5" stroke="#111" stroke-width="1.4" />
<path d="M77.60,590.00 L80.00,591.80 M80.00,590.00 L77.60,591.80 M78.80,589.60 L78.80,592.00" stroke="#111" stroke-width="0.8"/>
<path d="M80.60,590.00 L83.00,591.80 M83.00,590.00 L80.60,591.80 M81.80,589.60 L81.80,592.00" stroke="#111" stroke-width="0.8"/>
<line x1="87" y1="599.2" x2="101.2" y2="599.2" stroke="#111" stroke-width="1.4" />
<path d="M93.00,595.70 L95.40,597.50 M95.40,595.70 L93.00,597.50 M94.20,595.30 L94.20,597.70" stroke="#111" stroke-width="0.8"/>
<line x1="123" y1="598.8" x2="166" y2="598.8" stroke="#111" stroke-width="1.4" />
<path d="M143.50,595.30 L145.90,597.10 M145.90,595.30 L143.50,597.10 M144.70,594.90 L144.70,597.30" stroke="#111" stroke-width="0.8"/>
<text x="237.3" y="541.5" font-size="12.8" font-weight="bold" fill="#000" stroke="#000" stroke-width="0.45">H</text>
<text x="285.0" y="554.6" font-size="11.2" font-weight="bold" text-anchor="start" fill="#000" stroke="#000" stroke-width="0.15" >1 Day PT</text>
<line x1="271.0" y1="561.5" x2="271.0" y2="722.6" stroke="#000" stroke-width="2" />
<line x1="267.2" y1="722.0" x2="271.0" y2="722.0" stroke="#000" stroke-width="1.3" />
<text x="264.2" y="725.4" font-size="9.6" font-weight="normal" text-anchor="end" fill="#222222" stroke="#222222" stroke-width="0.25" >0</text>
<line x1="267.2" y1="682.6" x2="271.0" y2="682.6" stroke="#000" stroke-width="1.3" />
<text x="264.2" y="686.0" font-size="9.6" font-weight="normal" text-anchor="end" fill="#222222" stroke="#222222" stroke-width="0.25" >20</text>
<line x1="267.2" y1="643.4" x2="271.0" y2="643.4" stroke="#000" stroke-width="1.3" />
<text x="264.2" y="646.8" font-size="9.6" font-weight="normal" text-anchor="end" fill="#222222" stroke="#222222" stroke-width="0.25" >40</text>
<line x1="267.2" y1="604.0" x2="271.0" y2="604.0" stroke="#000" stroke-width="1.3" />
<text x="264.2" y="607.4" font-size="9.6" font-weight="normal" text-anchor="end" fill="#222222" stroke="#222222" stroke-width="0.25" >60</text>
<line x1="267.2" y1="564.6" x2="271.0" y2="564.6" stroke="#000" stroke-width="1.3" />
<text x="264.2" y="568.0" font-size="9.6" font-weight="normal" text-anchor="end" fill="#222222" stroke="#222222" stroke-width="0.25" >80</text>
<line x1="268.0" y1="721.6" x2="344.6" y2="721.6" stroke="#000" stroke-width="2" />
<text x="0" y="0" font-size="10" text-anchor="middle" fill="#222222" stroke="#222222" stroke-width="0.35" textLength="51.6" lengthAdjust="spacingAndGlyphs" transform="translate(247.0,642.5) rotate(-90)">%PD1+/CD8+</text>
<rect x="277.00" y="566.50" width="13.80" height="7.00" fill="#8cb7e7" stroke="none" stroke-width="0" />
<text x="0" y="0" font-size="9.72" fill="#222222" stroke="#222222" stroke-width="0.22" transform="translate(294.60,573.40) scale(0.9259,1)">PD-1hi</text>
<rect x="277.00" y="578.30" width="13.80" height="7.00" fill="#c6daf2" stroke="none" stroke-width="0" />
<text x="0" y="0" font-size="9.72" fill="#222222" stroke="#222222" stroke-width="0.22" transform="translate(294.60,585.20) scale(0.9259,1)">PD-1low</text>
<rect x="274.50" y="701.40" width="11.40" height="20.20" fill="#c6daf2" stroke="none" stroke-width="0" />
<rect x="274.50" y="690.50" width="11.40" height="10.90" fill="#8cb7e7" stroke="none" stroke-width="0" />
<line x1="280.2" y1="685.3" x2="280.2" y2="691.5" stroke="#98a9c0" stroke-width="1.1" />
<line x1="277.7" y1="685.3" x2="282.7" y2="685.3" stroke="#98a9c0" stroke-width="1.3" />
<line x1="280.2" y1="698.8" x2="280.2" y2="701.4" stroke="#e4eefa" stroke-width="1.1" />
<line x1="277.8" y1="698.8" x2="282.59999999999997" y2="698.8" stroke="#e4eefa" stroke-width="1.3" />
<rect x="293.00" y="685.80" width="11.40" height="35.80" fill="#c6daf2" stroke="none" stroke-width="0" />
<rect x="293.00" y="659.40" width="11.40" height="26.40" fill="#8cb7e7" stroke="none" stroke-width="0" />
<line x1="298.7" y1="651.6" x2="298.7" y2="660.4" stroke="#98a9c0" stroke-width="1.1" />
<line x1="296.2" y1="651.6" x2="301.2" y2="651.6" stroke="#98a9c0" stroke-width="1.3" />
<line x1="298.7" y1="680.7" x2="298.7" y2="685.8" stroke="#e4eefa" stroke-width="1.1" />
<line x1="296.3" y1="680.7" x2="301.09999999999997" y2="680.7" stroke="#e4eefa" stroke-width="1.3" />
<rect x="311.20" y="683.30" width="11.40" height="38.30" fill="#c6daf2" stroke="none" stroke-width="0" />
<rect x="311.20" y="659.90" width="11.40" height="23.40" fill="#8cb7e7" stroke="none" stroke-width="0" />
<line x1="316.9" y1="651.6" x2="316.9" y2="660.9" stroke="#98a9c0" stroke-width="1.1" />
<line x1="314.4" y1="651.6" x2="319.4" y2="651.6" stroke="#98a9c0" stroke-width="1.3" />
<line x1="316.9" y1="676.7" x2="316.9" y2="683.3" stroke="#e4eefa" stroke-width="1.1" />
<line x1="314.5" y1="676.7" x2="319.29999999999995" y2="676.7" stroke="#e4eefa" stroke-width="1.3" />
<rect x="329.50" y="676.30" width="11.40" height="45.30" fill="#c6daf2" stroke="none" stroke-width="0" />
<rect x="329.50" y="610.30" width="11.40" height="66.00" fill="#8cb7e7" stroke="none" stroke-width="0" />
<line x1="335.2" y1="594.6" x2="335.2" y2="611.3" stroke="#98a9c0" stroke-width="1.1" />
<line x1="332.7" y1="594.6" x2="337.7" y2="594.6" stroke="#98a9c0" stroke-width="1.3" />
<line x1="335.2" y1="671.1" x2="335.2" y2="676.3" stroke="#e4eefa" stroke-width="1.1" />
<line x1="332.8" y1="671.1" x2="337.59999999999997" y2="671.1" stroke="#e4eefa" stroke-width="1.3" />
<line x1="280.2" y1="721.6" x2="280.2" y2="725.1" stroke="#000" stroke-width="1.3" />
<line x1="298.7" y1="721.6" x2="298.7" y2="725.1" stroke="#000" stroke-width="1.3" />
<line x1="316.9" y1="721.6" x2="316.9" y2="725.1" stroke="#000" stroke-width="1.3" />
<line x1="335.2" y1="721.6" x2="335.2" y2="725.1" stroke="#000" stroke-width="1.3" />
<text x="0" y="0" font-size="10.23" text-anchor="end" fill="#222222" stroke="#222222" stroke-width="0.4" transform="translate(283.60,733.90) rotate(-45) scale(0.9091,1)">Control</text>
<text x="0" y="0" font-size="10.23" text-anchor="end" fill="#222222" stroke="#222222" stroke-width="0.4" transform="translate(302.10,733.90) rotate(-45) scale(0.9091,1)">STING</text>
<text x="0" y="0" font-size="10.23" text-anchor="end" fill="#222222" stroke="#222222" stroke-width="0.4" transform="translate(320.30,733.90) rotate(-45) scale(0.9091,1)">GITR</text>
<text x="0" y="0" font-size="10.23" text-anchor="end" fill="#222222" stroke="#222222" stroke-width="0.4" transform="translate(338.60,733.90) rotate(-45) scale(0.9091,1)">STING + GITR</text>
<line x1="279.5" y1="597.2" x2="335.4" y2="597.2" stroke="#a6b6ca" stroke-width="1.0" />
<path d="M303.30,593.70 L305.70,595.50 M305.70,593.70 L303.30,595.50 M304.50,593.30 L304.50,595.70" stroke="#a6b6ca" stroke-width="0.8"/>
<path d="M306.30,593.70 L308.70,595.50 M308.70,593.70 L306.30,595.50 M307.50,593.30 L307.50,595.70" stroke="#a6b6ca" stroke-width="0.8"/>
<line x1="316" y1="604.6" x2="335.4" y2="604.6" stroke="#a6b6ca" stroke-width="1.0" />
<path d="M324.80,601.10 L327.20,602.90 M327.20,601.10 L324.80,602.90 M326.00,600.70 L326.00,603.10" stroke="#a6b6ca" stroke-width="0.8"/>
<line x1="279.5" y1="645" x2="330" y2="645" stroke="#c8d0da" stroke-width="1.0" />
<path d="M303.80,641.50 L306.20,643.30 M306.20,641.50 L303.80,643.30 M305.00,641.10 L305.00,643.50" stroke="#c8d0da" stroke-width="0.8"/>
<text x="403.7" y="541.5" font-size="12.8" font-weight="bold" fill="#000" stroke="#000" stroke-width="0.45">I</text>
<text x="447.3" y="554.4" font-size="11.2" font-weight="bold" text-anchor="start" fill="#000" stroke="#000" stroke-width="0.15" >1 Week PT</text>
<line x1="437.8" y1="561.5" x2="437.8" y2="722.6" stroke="#000" stroke-width="2" />
<line x1="434.0" y1="722.0" x2="437.8" y2="722.0" stroke="#000" stroke-width="1.3" />
<text x="431.0" y="725.4" font-size="9.6" font-weight="normal" text-anchor="end" fill="#222222" stroke="#222222" stroke-width="0.25" >0</text>
<line x1="434.0" y1="682.6" x2="437.8" y2="682.6" stroke="#000" stroke-width="1.3" />
<text x="431.0" y="686.0" font-size="9.6" font-weight="normal" text-anchor="end" fill="#222222" stroke="#222222" stroke-width="0.25" >20</text>
<line x1="434.0" y1="643.4" x2="437.8" y2="643.4" stroke="#000" stroke-width="1.3" />
<text x="431.0" y="646.8" font-size="9.6" font-weight="normal" text-anchor="end" fill="#222222" stroke="#222222" stroke-width="0.25" >40</text>
<line x1="434.0" y1="603.9" x2="437.8" y2="603.9" stroke="#000" stroke-width="1.3" />
<text x="431.0" y="607.3" font-size="9.6" font-weight="normal" text-anchor="end" fill="#222222" stroke="#222222" stroke-width="0.25" >60</text>
<line x1="434.0" y1="564.6" x2="437.8" y2="564.6" stroke="#000" stroke-width="1.3" />
<text x="431.0" y="568.0" font-size="9.6" font-weight="normal" text-anchor="end" fill="#222222" stroke="#222222" stroke-width="0.25" >80</text>
<line x1="434.8" y1="721.6" x2="511.3" y2="721.6" stroke="#000" stroke-width="2" />
<text x="0" y="0" font-size="10" text-anchor="middle" fill="#222222" stroke="#222222" stroke-width="0.35" textLength="51.6" lengthAdjust="spacingAndGlyphs" transform="translate(414.09999999999997,642.5) rotate(-90)">%PD1+/CD8+</text>
<rect x="443.80" y="566.60" width="13.90" height="7.00" fill="#c8007a" stroke="none" stroke-width="0" />
<text x="0" y="0" font-size="9.72" fill="#222222" stroke="#222222" stroke-width="0.22" transform="translate(461.70,573.50) scale(0.9259,1)">PD-1hi</text>
<rect x="443.80" y="578.10" width="13.90" height="7.00" fill="#e6b3d3" stroke="none" stroke-width="0" />
<text x="0" y="0" font-size="9.72" fill="#222222" stroke="#222222" stroke-width="0.22" transform="translate(461.70,585.00) scale(0.9259,1)">PD-1low</text>
<rect x="441.60" y="697.80" width="11.10" height="23.80" fill="#e6b3d3" stroke="none" stroke-width="0" />
<rect x="441.60" y="651.60" width="11.10" height="46.20" fill="#c8007a" stroke="none" stroke-width="0" />
<line x1="447.15000000000003" y1="643.3" x2="447.15000000000003" y2="652.6" stroke="#a8005f" stroke-width="1.1" />
<line x1="444.65000000000003" y1="643.3" x2="449.65000000000003" y2="643.3" stroke="#a8005f" stroke-width="1.3" />
<line x1="447.15000000000003" y1="695.4" x2="447.15000000000003" y2="697.8" stroke="#f4c6e0" stroke-width="1.3" />
<line x1="444.55" y1="695.4" x2="449.75000000000006" y2="695.4" stroke="#f4c6e0" stroke-width="1.5" />
<rect x="459.80" y="674.70" width="11.10" height="46.90" fill="#e6b3d3" stroke="none" stroke-width="0" />
<rect x="459.80" y="627.70" width="11.10" height="47.00" fill="#c8007a" stroke="none" stroke-width="0" />
<line x1="465.35" y1="621.3" x2="465.35" y2="628.7" stroke="#a8005f" stroke-width="1.1" />
<line x1="462.85" y1="621.3" x2="467.85" y2="621.3" stroke="#a8005f" stroke-width="1.3" />
<line x1="465.35" y1="667.2" x2="465.35" y2="674.7" stroke="#f4c6e0" stroke-width="1.3" />
<line x1="462.75" y1="667.2" x2="467.95000000000005" y2="667.2" stroke="#f4c6e0" stroke-width="1.5" />
<rect x="478.10" y="687.90" width="11.10" height="33.70" fill="#e6b3d3" stroke="none" stroke-width="0" />
<rect x="478.10" y="642.70" width="11.10" height="45.20" fill="#c8007a" stroke="none" stroke-width="0" />
<line x1="483.65000000000003" y1="631" x2="483.65000000000003" y2="643.7" stroke="#a8005f" stroke-width="1.1" />
<line x1="481.15000000000003" y1="631" x2="486.15000000000003" y2="631" stroke="#a8005f" stroke-width="1.3" />
<line x1="483.65000000000003" y1="683.8" x2="483.65000000000003" y2="687.9" stroke="#f4c6e0" stroke-width="1.3" />
<line x1="481.05" y1="683.8" x2="486.25000000000006" y2="683.8" stroke="#f4c6e0" stroke-width="1.5" />
<rect x="496.30" y="651.60" width="11.10" height="70.00" fill="#e6b3d3" stroke="none" stroke-width="0" />
<rect x="496.30" y="618.20" width="11.10" height="33.40" fill="#c8007a" stroke="none" stroke-width="0" />
<line x1="501.85" y1="612.5" x2="501.85" y2="619.2" stroke="#a8005f" stroke-width="1.1" />
<line x1="499.35" y1="612.5" x2="504.35" y2="612.5" stroke="#a8005f" stroke-width="1.3" />
<line x1="501.85" y1="643" x2="501.85" y2="651.6" stroke="#f4c6e0" stroke-width="1.3" />
<line x1="499.25" y1="643" x2="504.45000000000005" y2="643" stroke="#f4c6e0" stroke-width="1.5" />
<line x1="447.1" y1="721.6" x2="447.1" y2="725.1" stroke="#000" stroke-width="1.3" />
<line x1="465.3" y1="721.6" x2="465.3" y2="725.1" stroke="#000" stroke-width="1.3" />
<line x1="483.6" y1="721.6" x2="483.6" y2="725.1" stroke="#000" stroke-width="1.3" />
<line x1="501.8" y1="721.6" x2="501.8" y2="725.1" stroke="#000" stroke-width="1.3" />
<text x="0" y="0" font-size="10.23" text-anchor="end" fill="#222222" stroke="#222222" stroke-width="0.4" transform="translate(450.50,733.90) rotate(-45) scale(0.9091,1)">Control</text>
<text x="0" y="0" font-size="10.23" text-anchor="end" fill="#222222" stroke="#222222" stroke-width="0.4" transform="translate(468.70,733.90) rotate(-45) scale(0.9091,1)">STING</text>
<text x="0" y="0" font-size="10.23" text-anchor="end" fill="#222222" stroke="#222222" stroke-width="0.4" transform="translate(487.00,733.90) rotate(-45) scale(0.9091,1)">GITR</text>
<text x="0" y="0" font-size="10.23" text-anchor="end" fill="#222222" stroke="#222222" stroke-width="0.4" transform="translate(505.20,733.90) rotate(-45) scale(0.9091,1)">STING + GITR</text>
<line x1="446.4" y1="597.5" x2="502.7" y2="597.5" stroke="#d0c6d0" stroke-width="0.9" />
<path d="M469.80,594.00 L472.20,595.80 M472.20,594.00 L469.80,595.80 M471.00,593.60 L471.00,596.00" stroke="#d0c6d0" stroke-width="0.8"/>
<path d="M472.80,594.00 L475.20,595.80 M475.20,594.00 L472.80,595.80 M474.00,593.60 L474.00,596.00" stroke="#d0c6d0" stroke-width="0.8"/>
<path d="M475.80,594.00 L478.20,595.80 M478.20,594.00 L475.80,595.80 M477.00,593.60 L477.00,596.00" stroke="#d0c6d0" stroke-width="0.8"/>
<line x1="482.8" y1="605.3" x2="502.7" y2="605.3" stroke="#d0c6d0" stroke-width="0.9" />
<path d="M489.80,601.80 L492.20,603.60 M492.20,601.80 L489.80,603.60 M491.00,601.40 L491.00,603.80" stroke="#d0c6d0" stroke-width="0.8"/>
<path d="M492.80,601.80 L495.20,603.60 M495.20,601.80 L492.80,603.60 M494.00,601.40 L494.00,603.80" stroke="#d0c6d0" stroke-width="0.8"/>
<text x="8.6" y="19.8" font-size="12.8" font-weight="bold" fill="#000" stroke="#000" stroke-width="0.45">A</text>
<text x="9.0" y="36.8" font-size="9.0" font-weight="normal" text-anchor="start" fill="#222222" stroke="#222222" stroke-width="0.25" >SC Injection</text>
<text x="11.2" y="47.6" font-size="9.5" fill="#222222">5x10<tspan font-size="5.8" dy="-3.2" dx="0.6">6</tspan><tspan dy="3.2" dx="2.6">A20</tspan></text>
<line x1="33.3" y1="51" x2="33.3" y2="65" stroke="#000" stroke-width="1.2" />
<path d="M30.8,64 L35.8,64 L33.3,70.2 Z" fill="#000"/>
<g fill="none" stroke="#222" stroke-width="0.9" stroke-linejoin="round"><rect x="66.60000000000001" y="32.0" width="5.2" height="1.4" fill="#fff"/><path d="M67.8,33.4 L67.8,37.6 M70.60000000000001,33.4 L70.60000000000001,37.6"/><rect x="64.4" y="37.6" width="9.6" height="2.2" rx="0.8" fill="#fff"/><path d="M65.9,39.8 L65.9,53.6 L67.8,55.6 L70.60000000000001,55.6 L72.5,53.6 L72.5,39.8"/><path d="M70.4,42.5 h2 M70.4,44.5 h2 M70.4,46.5 h2 M70.4,48.5 h2 M70.4,50.5 h2" stroke-width="0.7"/><circle cx="69.2" cy="56.9" r="1.3" fill="#fff"/></g>
<line x1="69.2" y1="58.2" x2="69.2" y2="66" stroke="#111" stroke-width="1.1" />
<g fill="none" stroke="#222" stroke-width="0.9" stroke-linejoin="round"><rect x="78.60000000000001" y="32.0" width="5.2" height="1.4" fill="#fff"/><path d="M79.8,33.4 L79.8,37.6 M82.60000000000001,33.4 L82.60000000000001,37.6"/><rect x="76.4" y="37.6" width="9.6" height="2.2" rx="0.8" fill="#fff"/><path d="M77.9,39.8 L77.9,53.6 L79.8,55.6 L82.60000000000001,55.6 L84.5,53.6 L84.5,39.8"/><path d="M82.4,42.5 h2 M82.4,44.5 h2 M82.4,46.5 h2 M82.4,48.5 h2 M82.4,50.5 h2" stroke-width="0.7"/><circle cx="81.2" cy="56.9" r="1.3" fill="#fff"/></g>
<line x1="81.2" y1="58.2" x2="81.2" y2="66" stroke="#111" stroke-width="1.1" />
<g fill="none" stroke="#222" stroke-width="0.9" stroke-linejoin="round"><rect x="90.9" y="32.0" width="5.2" height="1.4" fill="#fff"/><path d="M92.1,33.4 L92.1,37.6 M94.9,33.4 L94.9,37.6"/><rect x="88.7" y="37.6" width="9.6" height="2.2" rx="0.8" fill="#fff"/><path d="M90.2,39.8 L90.2,53.6 L92.1,55.6 L94.9,55.6 L96.8,53.6 L96.8,39.8"/><path d="M94.7,42.5 h2 M94.7,44.5 h2 M94.7,46.5 h2 M94.7,48.5 h2 M94.7,50.5 h2" stroke-width="0.7"/><circle cx="93.5" cy="56.9" r="1.3" fill="#fff"/></g>
<line x1="93.5" y1="58.2" x2="93.5" y2="66" stroke="#111" stroke-width="1.1" />
<rect x="115.80" y="31.70" width="15.00" height="9.30" fill="#b83c1c" stroke="none" stroke-width="0" />
<rect x="115.80" y="46.70" width="15.00" height="9.30" fill="#1aee1a" stroke="none" stroke-width="0" />
<text x="134.6" y="39.6" font-size="9.0" font-weight="normal" text-anchor="start" fill="#222222" stroke="#222222" stroke-width="0.25" >Growth</text>
<text x="134.6" y="54.4" font-size="9.0" font-weight="normal" text-anchor="start" fill="#222222" stroke="#222222" stroke-width="0.25" >Regression</text>
<defs><linearGradient id="tl" x1="0" x2="1" y1="0" y2="0"><stop offset="0" stop-color="#ff1212"/><stop offset="0.2" stop-color="#f51a10"/><stop offset="0.6" stop-color="#c4400e"/><stop offset="0.68" stop-color="#9a6a10"/><stop offset="0.8" stop-color="#48c020"/><stop offset="0.95" stop-color="#18ec18"/></linearGradient><linearGradient id="ln" x1="0" x2="1" y1="0.3" y2="0"><stop offset="0" stop-color="#151515"/><stop offset="0.45" stop-color="#707070"/><stop offset="1" stop-color="#f0f0f0"/></linearGradient></defs>
<rect x="32.50" y="79.50" width="103.50" height="9.00" fill="url(#tl)" stroke="none" stroke-width="0" />
<line x1="32.5" y1="88.75" x2="179" y2="88.75" stroke="#000" stroke-width="1.1" />
<path d="M178,85.6 L184.2,88.75 L178,91.9 Z" fill="#000"/>
<line x1="33.0" y1="88.75" x2="33.0" y2="91.55" stroke="#000" stroke-width="0.9" />
<line x1="39.05" y1="88.75" x2="39.05" y2="90.55" stroke="#000" stroke-width="0.9" />
<line x1="45.1" y1="88.75" x2="45.1" y2="90.55" stroke="#000" stroke-width="0.9" />
<line x1="51.15" y1="88.75" x2="51.15" y2="90.55" stroke="#000" stroke-width="0.9" />
<line x1="57.2" y1="88.75" x2="57.2" y2="90.55" stroke="#000" stroke-width="0.9" />
<line x1="63.25" y1="88.75" x2="63.25" y2="91.55" stroke="#000" stroke-width="0.9" />
<line x1="69.3" y1="88.75" x2="69.3" y2="90.55" stroke="#000" stroke-width="0.9" />
<line x1="75.35" y1="88.75" x2="75.35" y2="90.55" stroke="#000" stroke-width="0.9" />
<line x1="81.4" y1="88.75" x2="81.4" y2="90.55" stroke="#000" stroke-width="0.9" />
<line x1="87.44999999999999" y1="88.75" x2="87.44999999999999" y2="90.55" stroke="#000" stroke-width="0.9" />
<line x1="93.5" y1="88.75" x2="93.5" y2="91.55" stroke="#000" stroke-width="0.9" />
<line x1="99.55" y1="88.75" x2="99.55" y2="90.55" stroke="#000" stroke-width="0.9" />
<line x1="105.6" y1="88.75" x2="105.6" y2="90.55" stroke="#000" stroke-width="0.9" />
<line x1="111.64999999999999" y1="88.75" x2="111.64999999999999" y2="90.55" stroke="#000" stroke-width="0.9" />
<line x1="117.7" y1="88.75" x2="117.7" y2="90.55" stroke="#000" stroke-width="0.9" />
<line x1="123.75" y1="88.75" x2="123.75" y2="91.55" stroke="#000" stroke-width="0.9" />
<line x1="129.8" y1="88.75" x2="129.8" y2="90.55" stroke="#000" stroke-width="0.9" />
<line x1="135.85" y1="88.75" x2="135.85" y2="90.55" stroke="#000" stroke-width="0.9" />
<line x1="141.89999999999998" y1="88.75" x2="141.89999999999998" y2="90.55" stroke="#000" stroke-width="0.9" />
<line x1="147.95" y1="88.75" x2="147.95" y2="90.55" stroke="#000" stroke-width="0.9" />
<line x1="154.0" y1="88.75" x2="154.0" y2="91.55" stroke="#000" stroke-width="0.9" />
<line x1="160.05" y1="88.75" x2="160.05" y2="90.55" stroke="#000" stroke-width="0.9" />
<line x1="166.1" y1="88.75" x2="166.1" y2="90.55" stroke="#000" stroke-width="0.9" />
<line x1="172.15" y1="88.75" x2="172.15" y2="90.55" stroke="#000" stroke-width="0.9" />
<text x="33.0" y="104.4" font-size="8.6" font-weight="normal" text-anchor="middle" fill="#222222" stroke="#222222" stroke-width="0.25" >0</text>
<text x="63.25" y="104.4" font-size="8.6" font-weight="normal" text-anchor="middle" fill="#222222" stroke="#222222" stroke-width="0.25" >5</text>
<text x="93.5" y="104.4" font-size="8.6" font-weight="normal" text-anchor="middle" fill="#222222" stroke="#222222" stroke-width="0.25" >10</text>
<text x="123.75" y="104.4" font-size="8.6" font-weight="normal" text-anchor="middle" fill="#222222" stroke="#222222" stroke-width="0.25" >15</text>
<text x="154.0" y="104.4" font-size="8.6" font-weight="normal" text-anchor="middle" fill="#222222" stroke="#222222" stroke-width="0.25" >20</text>
<text x="175.0" y="104.4" font-size="8.6" font-weight="normal" text-anchor="start" fill="#222222" stroke="#222222" stroke-width="0.25" >Days</text>
<line x1="99.3" y1="100.6" x2="99.3" y2="121" stroke="#000" stroke-width="1.2" />
<path d="M96.8,120 L101.8,120 L99.3,125.3 Z" fill="#000"/>
<line x1="135.6" y1="100.6" x2="135.6" y2="121" stroke="#000" stroke-width="1.2" />
<path d="M133.1,120 L138.1,120 L135.6,125.3 Z" fill="#000"/>
<g fill="#fff" stroke="#111" stroke-width="1.15" stroke-linejoin="round" stroke-linecap="round">
<path d="M114.6,136.5 C113.8,130 110.5,126 106.7,126 C101.5,126 95.5,130 94.9,134.5 C94.5,139.5 98,143.6 104,144.6 C106.5,145 108.5,145.6 110.5,146.5 Z"/>
<path d="M110.2,136.4 C109.5,132.5 107.5,131 105.8,131.2 C102.5,131.5 100.5,134.5 100.8,137.5 C101,139.5 101.8,140.6 102.2,141" fill="none" stroke="#555" stroke-width="0.8"/>
<path d="M122.4,136.5 C123.2,130 126.5,126 130.3,126 C135.5,126 141.5,130 142.1,134.5 C142.5,139.5 139,143.6 133,144.6 C130.5,145 128.5,145.6 126.5,146.5 Z"/>
<path d="M126.8,136.4 C127.5,132.5 129.5,131 131.2,131.2 C134.5,131.5 136.5,134.5 136.2,137.5 C136,139.5 135.2,140.6 134.8,141" fill="none" stroke="#555" stroke-width="0.8"/>
<path d="M110.8,154.2 C108.5,156 107,157 105.8,158 L95.6,167.6 L94.2,169.4 L96.2,169.2 L96.4,171 L97.8,169.8 L99.4,170.6 L99.2,169 L104.4,164.2 C100.5,170 98.4,177 97.6,183.5 C97,189 97.4,193 98.4,196.2 C95.8,197.2 93.8,198.6 94.6,199.8 C96,200.9 100.5,201 103,200.4 C108,202 128,202 134,200.4 C136.5,201 141,200.9 142.4,199.8 C143.2,198.6 141.2,197.2 138.6,196.2 C139.6,193 140,189 139.4,183.5 C138.6,177 136.5,170 132.6,164.2 L137.8,169 L137.6,170.6 L139.2,169.8 L140.6,171 L140.8,169.2 L142.8,169.4 L141.4,167.6 L131.2,158 C130,157 128.5,156 126.2,154.2 Z"/>
<path d="M112,158 C106,164 103.8,175 104,183 C104.2,193 110,200.6 118.5,200.6 C127,200.6 132.8,193 133,183 C133.2,175 131,164 125,158" fill="none" stroke="#9a9a9a" stroke-width="0.75"/>
<path d="M113.7,135.5 L123.3,135.5 C126.5,136.5 128.5,141 128.8,145.6 C128.9,149 127.5,151 125.8,152.2 C123,154 120,155 118.5,157 C117,155 114,154 111.2,152.2 C109.5,151 108.1,149 108.2,145.6 C108.5,141 110.5,136.5 113.7,135.5 Z"/>
</g>
<ellipse cx="114.5" cy="146.0" rx="2.6" ry="4.0" fill="#fff" stroke="#222" stroke-width="0.7" transform="rotate(10 114.5 146)"/>
<ellipse cx="122.5" cy="146.0" rx="2.6" ry="4.0" fill="#fff" stroke="#222" stroke-width="0.7" transform="rotate(-10 122.5 146)"/>
<ellipse cx="114.9" cy="147.6" rx="1.6" ry="2.4" fill="#111"/>
<ellipse cx="122.1" cy="147.6" rx="1.6" ry="2.4" fill="#111"/>
<path d="M111.8,141.3 Q114,139.3 116.5,140.8 M120.5,140.8 Q123,139.3 125.2,141.3" fill="none" stroke="#222" stroke-width="0.6"/>
<path d="M116.0,153.4 L121.0,153.4 L118.5,157.6 Z" fill="#000"/>
<path d="M112.5,152.6 L104.2,150.8 M112.5,153.3 L104,154.2 M113,154 L105.5,157 M124.5,152.6 L132.8,150.8 M124.5,153.3 L133,154.2 M124,154 L131.5,157" stroke="#222" stroke-width="0.75"/>
<rect x="120.90" y="175.50" width="14.80" height="15.80" fill="none" stroke="#c45a58" stroke-width="1.3" />
<ellipse cx="129.3" cy="183.4" rx="4.6" ry="5.6" fill="#50585f" stroke="#222" stroke-width="0.9"/>
<circle cx="107.8" cy="182.3" r="2.3" fill="#fff" stroke="#a8b0a8" stroke-width="0.8"/>
<rect x="99.40" y="185.60" width="7.00" height="7.40" fill="none" stroke="#c45a58" stroke-width="1.1" />
<circle cx="102.9" cy="189.0" r="1.5" fill="#3a2a2a"/>
<line x1="73.5" y1="183.9" x2="99.4" y2="185.0" stroke="#d49a9a" stroke-width="0.9" />
<line x1="80.5" y1="197.2" x2="99.4" y2="192.8" stroke="#dcaaaa" stroke-width="0.8" />
<path d="M66.3,192.5 C66,187.5 70.5,184.2 76.8,184.4 C82.8,184.6 86.6,188.2 86.2,193.2 C86,196.8 84,198.8 81.6,198.5 C79.9,198.2 79,196.6 78,196.6 C76.6,196.6 75,198.7 71.6,198.3 C68.4,197.9 66.5,195.6 66.3,192.5 Z" fill="url(#ln)" stroke="#111" stroke-width="0.9"/>
<line x1="77.3" y1="196.5" x2="77.0" y2="203.8" stroke="#111" stroke-width="1.3" />
<text x="45.3" y="169.0" font-size="9.2" font-weight="bold" text-anchor="middle" fill="#000" stroke="#000" stroke-width="0.15" >Draining</text>
<text x="45.8" y="180.8" font-size="9.2" font-weight="bold" text-anchor="middle" fill="#000" stroke="#000" stroke-width="0.15" >Lymph Node</text>
<text x="141.0" y="178.8" font-size="9.3" font-weight="bold" text-anchor="start" fill="#000" stroke="#000" stroke-width="0.15" >Distant</text>
<text x="143.0" y="190.5" font-size="9.2" font-weight="bold" text-anchor="start" fill="#000" stroke="#000" stroke-width="0.15" >Tumor</text>
<rect x="0.00" y="0.00" width="520.00" height="1.60" fill="#000" stroke="none" stroke-width="0" />
<rect x="0.00" y="0.00" width="1.60" height="787.00" fill="#000" stroke="none" stroke-width="0" />
<rect x="518.30" y="0.00" width="1.70" height="787.00" fill="#000" stroke="none" stroke-width="0" />
<rect x="0.00" y="784.60" width="520.00" height="2.40" fill="#000" stroke="none" stroke-width="0" />
</svg></body></html>
